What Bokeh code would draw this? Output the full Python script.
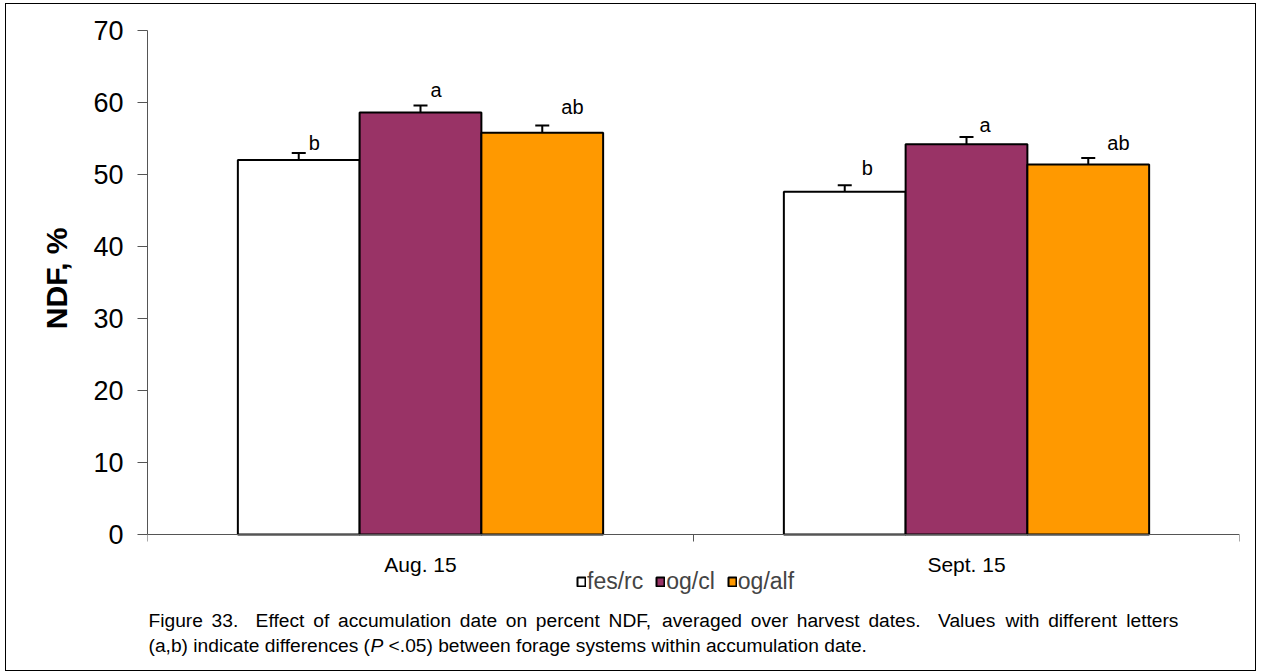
from bokeh.plotting import figure
from bokeh.models import (Range1d, FixedTicker, Label, Legend, LegendItem,
                          Whisker, TeeHead, ColumnDataSource, Title)
from bokeh.embed import file_html
from bokeh.resources import INLINE

# ---------------- data ----------------
dates = ["Aug. 15", "Sept. 15"]
systems = ["fes/rc", "og/cl", "og/alf"]
fes_rc = [52.0, 47.6]
og_cl = [58.6, 54.2]
og_alf = [55.8, 51.4]
fes_rc_se = [1.0, 0.9]
og_cl_se = [1.0, 1.0]
og_alf_se = [1.0, 0.9]
fes_rc_letters = ["b", "b"]
og_cl_letters = ["a", "a"]
og_alf_letters = ["ab", "ab"]
y_ticks = [0, 10, 20, 30, 40, 50, 60, 70]
y_title = "NDF, %"
caption_1 = ("Figure 33.  Effect of accumulation date on percent NDF, averaged over "
             "harvest dates.  Values with different letters")
caption_2 = ["(a,b) indicate differences (", "P",
             "<.05) between forage systems within accumulation date."]

# ---------------- style / layout ----------------
FONT = "Liberation Sans"
colors = ["#FFFFFF", "#993366", "#FF9900"]
bar_w = 0.223                      # fraction of one category slot
W, H = 1251, 668
FL, FR, FT = 141, 18, 26           # frame borders in canvas px
px_x = (W - FL - FR) / 2.0         # pixels per x unit
px_y = 504 / 70.0                  # pixels per y unit
y_bottom = 70 - (H - FT) / px_y    # frame reaches canvas bottom
letter_dx = [[10, 17], [10, 13], [19, 19]]   # px right of bar centre
letter_dy = [[10, 17], [15, 12], [19, 15]]   # px above error cap
cap_fs = 19.2
cap1_width = 1030                  # first caption line is justified to this width
cap2_dx = [1, 1 + 11.56 * cap_fs, 1 + 12.505 * cap_fs]
cap2_style = ["normal", "italic", "normal"]
# Arial / Liberation Sans advance widths (1/1000 em) for justifying line 1
adv = {" ": 278, "F": 611, "i": 222, "g": 556, "u": 556, "r": 333, "e": 556,
       "3": 556, ".": 278, "E": 667, "f": 278, "c": 500, "t": 278, "o": 556,
       "a": 556, "m": 833, "l": 222, "n": 556, "d": 556, "p": 556, "N": 722,
       "D": 722, ",": 278, "v": 500, "h": 556, "s": 500, "V": 667, "w": 722}

values = [fes_rc, og_cl, og_alf]
errors = [fes_rc_se, og_cl_se, og_alf_se]
letters = [fes_rc_letters, og_cl_letters, og_alf_letters]

p = figure(width=W, height=H, x_range=Range1d(0, 2), y_range=Range1d(y_bottom, 70),
           output_backend="svg", toolbar_location=None, x_axis_location="above",
           min_border_left=FL, min_border_right=FR, min_border_top=FT,
           min_border_bottom=0)
p.styles = {"border": "1px solid black", "margin-left": "5px", "margin-top": "3px"}
p.outline_line_color = None
p.xgrid.visible = False
p.ygrid.visible = False

# y axis
ya = p.yaxis[0]
ya.bounds = (0, 70)
ya.ticker = FixedTicker(ticks=y_ticks)
ya.major_tick_out = 10
ya.major_tick_in = 0
ya.minor_tick_out = 0
ya.minor_tick_in = 0
ya.axis_line_color = "#555555"
ya.major_tick_line_color = "#555555"
ya.major_label_text_font = FONT
ya.major_label_text_font_size = "27px"
ya.major_label_text_color = "black"
ya.major_label_standoff = 14

# y-axis title, placed next to the 0..70 part of the axis
p.add_layout(Title(text=y_title, align="right", offset=197,
                   text_font=FONT, text_font_size="30px", text_font_style="bold",
                   text_color="black", standoff=36), "left")

# x axis drawn at y = 0, tick marks at category boundaries
xa = p.xaxis[0]
xa.fixed_location = 0
xa.bounds = (0, 2)
xa.ticker = FixedTicker(ticks=[0, 1, 2])
xa.major_label_overrides = {0: "", 1: "", 2: ""}
xa.major_label_text_font_size = "1px"
xa.major_label_standoff = 0
xa.major_tick_out = 0
xa.major_tick_in = 7
xa.minor_tick_out = 0
xa.minor_tick_in = 0
xa.axis_line_color = "#555555"
xa.major_tick_line_color = "#555555"

# bars
renderers = []
for j, name in enumerate(systems):
    xs = [i + 0.5 + (j - 1) * bar_w for i in range(len(dates))]
    src = ColumnDataSource(dict(x=xs, top=values[j],
                                upper=[v + e for v, e in zip(values[j], errors[j])]))
    r = p.vbar(x="x", top="top", bottom=0, width=bar_w, source=src,
               fill_color=colors[j], line_color="black", line_width=2)
    renderers.append(r)
    w = Whisker(base="x", lower="top", upper="upper", source=src,
                line_color="black", line_width=2,
                upper_head=TeeHead(size=14, line_color="black", line_width=2),
                lower_head=None)
    p.add_layout(w)
    for i in range(len(dates)):
        ly = values[j][i] + errors[j][i] + letter_dy[j][i] / px_y
        lx = xs[i] + letter_dx[j][i] / px_x
        p.add_layout(Label(x=lx, y=ly, text=letters[j][i], text_font=FONT,
                           text_font_size="20px", text_align="left",
                           text_baseline="middle", text_color="black"))

# category labels
for i, d in enumerate(dates):
    p.add_layout(Label(x=i + 0.5, y=-30 / px_y, text=d, text_font=FONT,
                       text_font_size="21px", text_align="center",
                       text_baseline="middle", text_color="black"))

# legend (location in px from frame bottom-left)
legend = Legend(items=[LegendItem(label=s, renderers=[r]) for s, r in zip(systems, renderers)],
                orientation="horizontal", location=(429, 77),
                glyph_width=10, glyph_height=11, label_standoff=1, spacing=12,
                padding=0, margin=0, border_line_color=None,
                background_fill_alpha=0, label_text_font=FONT,
                label_text_font_size="23px")
p.add_layout(legend)

# caption line 1: justified word by word
def text_w(s):
    return sum(adv.get(ch, 556) for ch in s) / 1000.0 * cap_fs

tokens = caption_1.split(" ")
n_sp = caption_1.count(" ")
extra = (cap1_width - text_w(caption_1)) / n_sp
cur = 1.0
for k, tok in enumerate(tokens):
    if tok:
        p.add_layout(Label(x=0, y=-86 / px_y, x_offset=cur, text=tok, text_font=FONT,
                           text_font_size=f"{cap_fs}px", text_baseline="middle",
                           text_color="black"))
        cur += text_w(tok)
    cur += text_w(" ") + extra

# caption line 2
for t, dx, st in zip(caption_2, cap2_dx, cap2_style):
    p.add_layout(Label(x=0, y=-111 / px_y, x_offset=dx, text=t, text_font=FONT,
                       text_font_size=f"{cap_fs}px", text_font_style=st,
                       text_baseline="middle", text_color="black"))

open("out.html", "w").write(file_html(p, INLINE))
